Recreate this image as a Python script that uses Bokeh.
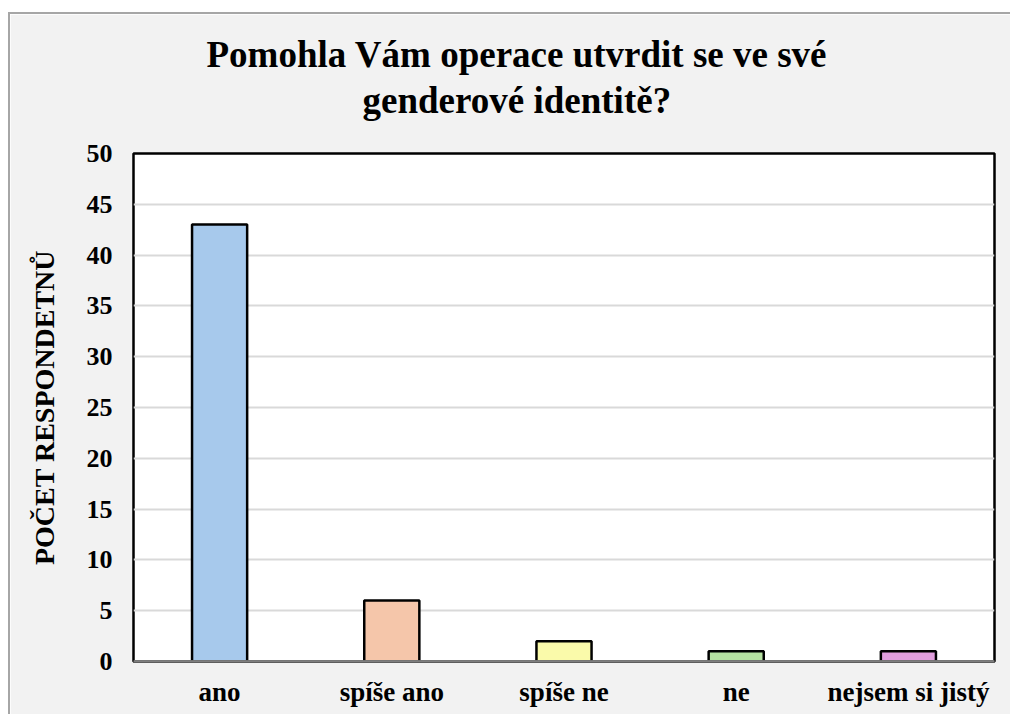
from bokeh.plotting import figure
from bokeh.models import Range1d, FixedTicker, Title, ColumnDataSource, FactorRange, Span
from bokeh.embed import file_html
from bokeh.resources import INLINE

categories = ["ano", "spíše ano", "spíše ne", "ne", "nejsem si jistý"]
counts = [43, 6, 2, 1, 1]
bar_colors = ["#A7C9EC", "#F5C6AA", "#FAFAAA", "#B5E1A1", "#E19EDD"]
y_ticks = [0, 5, 10, 15, 20, 25, 30, 35, 40, 45, 50]
title_lines = ["Pomohla Vám operace utvrdit se ve své", "genderové identitě?"]
y_label = "POČET RESPONDETNŮ"

FONT = "Liberation Serif"

source = ColumnDataSource(dict(cat=categories, val=counts, color=bar_colors))

p = figure(
    x_range=FactorRange(*categories),
    y_range=Range1d(0, 50),
    width=1002, height=702,
    output_backend="svg", toolbar_location=None,
    min_border_left=123, min_border_right=18,
    min_border_top=139, min_border_bottom=55,
    background_fill_color="white",
    border_fill_color="#F2F2F2",
    styles={"margin-left": "8px", "margin-top": "12px",
            "border-left": "2px solid #A6A6A6", "border-top": "2px solid #A6A6A6"},
)

p.vbar(x="cat", top="val", width=0.32, source=source,
       fill_color="color", line_color="black", line_width=2.5)

p.outline_line_color = "black"
p.outline_line_width = 2.5

p.xgrid.grid_line_color = None
p.ygrid.grid_line_color = "#D9D9D9"
p.ygrid.grid_line_width = 2
p.yaxis.ticker = FixedTicker(ticks=y_ticks)

for ax in (p.xaxis[0], p.yaxis[0]):
    ax.major_tick_line_color = None
    ax.minor_tick_line_color = None
    ax.major_label_text_font = FONT
    ax.major_label_text_font_style = "bold"
    ax.major_label_text_color = "black"

p.yaxis.axis_line_color = None
p.yaxis.major_label_text_font_size = "26px"
p.yaxis.major_label_standoff = 15
p.yaxis.axis_label = y_label
p.yaxis.axis_label_text_font = FONT
p.yaxis.axis_label_text_font_style = "bold"
p.yaxis.axis_label_text_font_size = "28px"
p.yaxis.axis_label_text_color = "black"
p.yaxis.axis_label_standoff = 24

p.xaxis.axis_line_color = "#808080"
p.xaxis.axis_line_width = 2
p.xaxis.major_label_text_font_size = "27px"
p.xaxis.major_label_standoff = 9

p.add_layout(Span(location=0, dimension="width", line_color="#7F7F7F", line_width=2.5))

# spacer between frame and title lines
p.add_layout(Title(text=" ", text_font_size="10px", standoff=20), "above")
offsets = [73, 229]
standoffs = [6, 0]
for txt, off, so in reversed(list(zip(title_lines, offsets, standoffs))):
    p.add_layout(Title(text=txt, align="left", offset=off, standoff=so,
                       vertical_align="bottom",
                       text_font=FONT, text_font_style="bold", text_font_size="37px",
                       text_color="black"), "above")

open("out.html", "w").write(file_html(p, INLINE))
